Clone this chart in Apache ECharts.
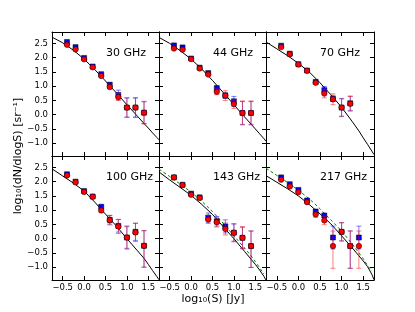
<!DOCTYPE html>
<html><head><meta charset="utf-8">
<script src="https://cdn.jsdelivr.net/npm/echarts@6/dist/echarts.min.js"></script>
<style>html,body{margin:0;padding:0;background:#fff}#c{width:415px;height:312px}</style>
</head><body><div id="c"></div>
<script>
const panelNames = ['30 GHz','44 GHz','70 GHz','100 GHz','143 GHz','217 GHz'];
const logS = [-0.4,-0.2,0.0,0.2,0.4,0.6,0.8,1.0,1.2,1.4];
const xTicks = [-0.5,0,0.5,1,1.5];
const yTicks = [-1,-0.5,0,0.5,1,1.5,2,2.5];
const modelX = [-0.75,-0.5,-0.25,0,0.25,0.5,0.75,1,1.25,1.4,1.5,1.6,1.7,1.75];

const model30  = [2.72,2.52,2.26,1.95,1.58,1.18,0.77,0.35,-0.06,-0.31,-0.47,-0.64,-0.80,-0.88];
const model44  = [2.71,2.50,2.24,1.95,1.60,1.20,0.78,0.35,-0.08,-0.33,-0.50,-0.67,-0.84,-0.93];
const model70  = [2.55,2.31,2.07,1.80,1.50,1.12,0.70,0.26,-0.25,-0.57,-0.81,-1.04,-1.28,-1.40];
const model100 = [2.45,2.20,1.95,1.67,1.28,0.86,0.45,0.00,-0.43,-0.69,-0.90,-1.12,-1.33,-1.44];
const model143 = [2.34,2.06,1.79,1.52,1.20,0.85,0.42,0.00,-0.45,-0.72,-0.90,-1.10,-1.32,-1.45];
const model217 = [2.21,1.98,1.75,1.50,1.20,0.87,0.52,0.10,-0.33,-0.60,-0.78,-0.98,-1.25,-1.44];
const green143 = [2.44,2.18,1.91,1.63,1.31,0.95,0.54,0.10,-0.33,-0.60,-0.80,-1.02,-1.24,null];
const green217 = [2.47,2.22,1.97,1.70,1.40,1.05,0.66,0.27,-0.20,-0.50,-0.70,-0.94,-1.14,null];

const red30  = [2.45,2.29,1.94,1.66,1.36,0.97,0.62,0.25,0.25,0.07];
const red30Err  = [0.02,0.02,0.02,0.02,0.03,0.07,0.12,0.35,0.35,0.40];
const blue30 = [2.55,2.37,1.99,1.69,1.42,1.05,0.69,0.25,0.25,0.07];
const blue30Err = [0.02,0.02,0.02,0.02,0.03,0.08,0.17,0.33,0.33,0.38];

const red44  = [2.32,2.28,1.95,1.62,1.41,0.80,0.67,0.37,0.06,0.06];
const red44Err  = [0.02,0.02,0.02,0.02,0.03,0.10,0.17,0.15,0.42,0.42];
const blue44 = [2.43,2.36,1.97,1.65,1.46,0.93,0.67,0.47,0.06,0.06];
const blue44Err = [0.02,0.02,0.02,0.02,0.03,0.08,0.10,0.17,0.40,0.40];

const red70  = [2.37,2.12,1.76,1.54,1.12,0.74,0.54,0.25,0.38];
const red70Err  = [0.02,0.02,0.02,0.02,0.04,0.15,0.19,0.30,0.26];
const blue70 = [2.42,2.14,1.77,1.55,1.15,0.86,0.56,0.25,0.40];
const blue70Err = [0.02,0.02,0.02,0.02,0.04,0.13,0.10,0.32,0.25];

const red100  = [2.22,1.98,1.64,1.47,0.99,0.65,0.43,0.04,0.22,-0.25];
const red100Err  = [0.02,0.02,0.02,0.02,0.07,0.17,0.25,0.41,0.32,[0.75,0.53]];
const blue100 = [2.26,2.00,1.67,1.48,1.12,0.66,0.45,0.04,0.24,-0.25];
const blue100Err = [0.02,0.02,0.02,0.02,0.05,0.15,0.22,0.38,0.30,[0.75,0.53]];

const red143  = [2.15,1.88,1.54,1.43,0.67,0.58,0.34,0.21,0.03,-0.26];
const red143Err  = [0.02,0.02,0.02,0.02,0.14,0.17,0.21,0.32,0.39,[0.75,0.53]];
const blue143 = [2.15,1.89,1.58,1.45,0.74,0.61,0.43,0.21,0.03,-0.26];
const blue143Err = [0.02,0.02,0.02,0.02,0.16,0.17,0.23,0.30,0.37,[0.75,0.53]];

const red217  = [2.07,1.83,1.63,1.28,0.85,0.64,-0.26,0.24,-0.26,-0.26];
const red217Err  = [0.03,0.03,0.03,0.04,0.10,0.15,[0.78,0.53],0.32,[0.78,0.53],[0.78,0.53]];
const blue217 = [2.15,1.91,1.71,1.34,0.95,0.81,0.04,0.24,-0.26,0.04];
const blue217Err = [0.03,0.03,0.03,0.04,0.08,0.08,0.40,0.32,[0.78,0.53],0.40];

const panels = [
  {model:model30, green:null, red:red30, redErr:red30Err, blue:blue30, blueErr:blue30Err},
  {model:model44, green:null, red:red44, redErr:red44Err, blue:blue44, blueErr:blue44Err},
  {model:model70, green:null, red:red70, redErr:red70Err, blue:blue70, blueErr:blue70Err},
  {model:model100, green:null, red:red100, redErr:red100Err, blue:blue100, blueErr:blue100Err},
  {model:model143, green:green143, red:red143, redErr:red143Err, blue:blue143, blueErr:blue143Err},
  {model:model217, green:green217, red:red217, redErr:red217Err, blue:blue217, blueErr:blue217Err}
];

const FONT = '"DejaVu Sans", sans-serif';
const lefts = [52,159,266], widths = [107,107,108], tops = [32,156], H = 124;

function fmt(v){ return (v < 0 ? '\u2212' : '') + Math.abs(v).toFixed(1); }

function errData(ys, errs){
  return ys.map((y,i) => {
    const e = errs[i];
    const dn = Array.isArray(e) ? e[0] : e, up = Array.isArray(e) ? e[1] : e;
    return [logS[i], y - dn, y + up];
  });
}
function errRender(color){
  return function(params, api){
    const x = api.value(0);
    const a = api.coord([x, api.value(1)]), b = api.coord([x, api.value(2)]);
    const cw = 2.5;
    const st = {stroke: color, lineWidth: 1, fill: null};
    return {type:'group', children:[
      {type:'line', shape:{x1:a[0],y1:a[1],x2:b[0],y2:b[1]}, style:st},
      {type:'line', shape:{x1:a[0]-cw,y1:a[1],x2:a[0]+cw,y2:a[1]}, style:st},
      {type:'line', shape:{x1:b[0]-cw,y1:b[1],x2:b[0]+cw,y2:b[1]}, style:st}
    ]};
  };
}

const grid = [], xAxis = [], yAxis = [], series = [], graphic = [];
panels.forEach((p, i) => {
  const col = i % 3, row = Math.floor(i / 3);
  grid.push({left: lefts[col], top: tops[row], width: widths[col], height: H, containLabel: false});
  const axBase = {
    type: 'value', gridIndex: i,
    axisLine: {show: true, onZero: false, lineStyle: {color: '#000', width: 1}},
    splitLine: {show: false}
  };
  xAxis.push(Object.assign({}, axBase, {min: -0.75, max: 1.75, position: 'bottom',
    axisTick: {show: true, inside: true, length: 4, customValues: xTicks, lineStyle: {color: '#000'}},
    axisLabel: {show: row === 1, customValues: xTicks, formatter: fmt, fontSize: 8.5, fontFamily: FONT, color: '#000', margin: 3}}));
  xAxis.push(Object.assign({}, axBase, {min: -0.75, max: 1.75, position: 'top',
    axisTick: {show: true, inside: true, length: 4, customValues: xTicks, lineStyle: {color: '#000'}},
    axisLabel: {show: false}}));
  yAxis.push(Object.assign({}, axBase, {min: -1.45, max: 2.9, position: 'left',
    axisTick: {show: true, inside: true, length: 4, customValues: yTicks, lineStyle: {color: '#000'}},
    axisLabel: {show: col === 0, customValues: yTicks, formatter: fmt, fontSize: 8.5, fontFamily: FONT, color: '#000', margin: 4}}));
  yAxis.push(Object.assign({}, axBase, {min: -1.45, max: 2.9, position: 'right',
    axisTick: {show: true, inside: true, length: 4, customValues: yTicks, lineStyle: {color: '#000'}},
    axisLabel: {show: false}}));
  const xi = 2 * i, yi = 2 * i;
  series.push({type: 'line', xAxisIndex: xi, yAxisIndex: yi, data: modelX.map((x, k) => [x, p.model[k]]),
    showSymbol: false, symbol: 'none', lineStyle: {color: '#000', width: 1}, clip: true, z: 2, silent: true, animation: false});
  if (p.green) {
    series.push({type: 'line', xAxisIndex: xi, yAxisIndex: yi,
      data: modelX.map((x, k) => [x, p.green[k]]).filter(d => d[1] !== null),
      showSymbol: false, symbol: 'none', lineStyle: {color: '#008000', width: 1, type: [3, 2.5]}, clip: true, z: 2, animation: false});
  }
  series.push({type: 'custom', xAxisIndex: xi, yAxisIndex: yi, data: errData(p.blue, p.blueErr),
    renderItem: errRender('rgba(0,0,255,0.5)'), clip: true, z: 3, animation: false});
  series.push({type: 'scatter', xAxisIndex: xi, yAxisIndex: yi, data: p.blue.map((y, k) => [logS[k], y]),
    symbol: 'rect', symbolSize: 5, itemStyle: {color: '#0000ff', borderColor: '#000', borderWidth: 0.5, opacity: 1}, z: 4, animation: false});
  series.push({type: 'custom', xAxisIndex: xi, yAxisIndex: yi, data: errData(p.red, p.redErr),
    renderItem: errRender('rgba(255,0,0,0.5)'), clip: true, z: 5, animation: false});
  series.push({type: 'scatter', xAxisIndex: xi, yAxisIndex: yi, data: p.red.map((y, k) => [logS[k], y]),
    symbol: 'circle', symbolSize: 5.5, itemStyle: {color: '#ff0000', borderColor: '#000', borderWidth: 0.5, opacity: 1}, z: 6, animation: false});
  graphic.push({type: 'text', x: lefts[col] + 54, y: tops[row] + 21, z: 10,
    style: {text: panelNames[i], fontSize: 11, fontFamily: FONT, fill: '#000', align: 'left', verticalAlign: 'middle'}});
});
graphic.push({type: 'text', x: 213, y: 299, z: 10,
  style: {text: 'log\u2081\u2080(S) [Jy]', fontSize: 11, fontFamily: FONT, fill: '#000', align: 'center', verticalAlign: 'middle'}});
graphic.push({type: 'text', x: 18, y: 156, rotation: Math.PI / 2, z: 10,
  style: {text: 'log\u2081\u2080(dN/dlogS) [sr\u207B\u00B9]', fontSize: 11, fontFamily: FONT, fill: '#000', align: 'center', verticalAlign: 'middle'}});

const chart = echarts.init(document.getElementById('c'), null, {renderer: 'canvas'});
chart.setOption({animation: false, backgroundColor: '#fff', grid, xAxis, yAxis, series, graphic});
</script></body></html>
